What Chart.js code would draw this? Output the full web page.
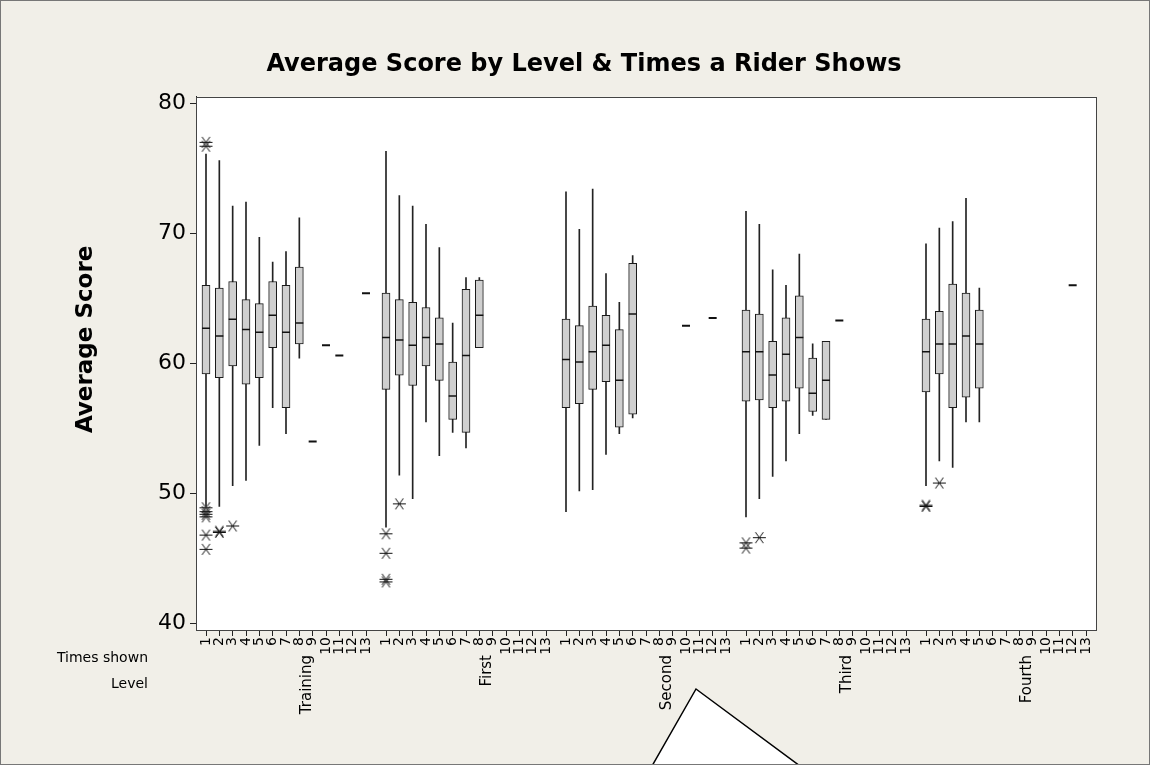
<!DOCTYPE html>
<html>
<head>
<meta charset="utf-8">
<title>Average Score by Level &amp; Times a Rider Shows</title>
<script src="https://cdn.jsdelivr.net/npm/chart.js@4.4.1/dist/chart.umd.min.js"></script>
<style>
  html, body { margin: 0; padding: 0; background: #f1efe8; }
  #wrap { width: 1150px; height: 765px; }
</style>
</head>
<body>
<div id="wrap"><canvas id="scoreChart" width="1150" height="765"></canvas></div>
<script>
const levels = ['Training', 'First', 'Second', 'Third', 'Fourth'];
const timesShown = ['1', '2', '3', '4', '5', '6', '7', '8', '9', '10', '11', '12', '13'];

// box plot stats: one row per level, column = times shown - 1
const whiskerHigh = [
    [76.1, 75.6, 72.1, 72.4, 69.7, 67.8, 68.6, 71.2],
    [76.3, 72.9, 72.1, 70.7, 68.9, 63.1, 66.6, 66.6],
    [73.2, 70.3, 73.4, 66.9, 64.7, 68.3],
    [71.7, 70.7, 67.2, 66.0, 68.4, 61.5, 61.7],
    [69.2, 70.4, 70.9, 72.7, 65.8]
];
const upperQuartile = [
    [66.0, 65.8, 66.3, 64.9, 64.6, 66.3, 66.0, 67.4],
    [65.4, 64.9, 64.7, 64.3, 63.5, 60.1, 65.7, 66.4],
    [63.4, 62.9, 64.4, 63.7, 62.6, 67.7],
    [64.1, 63.8, 61.7, 63.5, 65.2, 60.4, 61.7],
    [63.4, 64.0, 66.1, 65.4, 64.1]
];
const medians = [
    [62.7, 62.1, 63.4, 62.6, 62.4, 63.7, 62.4, 63.1],
    [62.0, 61.8, 61.4, 62.0, 61.5, 57.5, 60.6, 63.7],
    [60.3, 60.1, 60.9, 61.4, 58.7, 63.8],
    [60.9, 60.9, 59.1, 60.7, 62.0, 57.7, 58.7],
    [60.9, 61.5, 61.5, 62.1, 61.5]
];
const lowerQuartile = [
    [59.2, 58.9, 59.8, 58.4, 58.9, 61.2, 56.6, 61.5],
    [58.0, 59.1, 58.3, 59.8, 58.7, 55.7, 54.7, 61.2],
    [56.6, 56.9, 58.0, 58.6, 55.1, 56.1],
    [57.1, 57.2, 56.6, 57.1, 58.1, 56.3, 55.7],
    [57.8, 59.2, 56.6, 57.4, 58.1]
];
const whiskerLow = [
    [49.0, 49.0, 50.6, 51.0, 53.7, 56.6, 54.6, 60.4],
    [47.4, 51.4, 49.6, 55.5, 52.9, 54.7, 53.5, 61.2],
    [48.6, 50.2, 50.3, 53.0, 54.6, 55.8],
    [48.2, 49.6, 51.3, 52.5, 54.6, 56.0, 55.7],
    [50.6, 52.5, 52.0, 55.5, 55.5]
];

// cells with a single score (drawn as a dash)
const singleScores = [
    [null, null, null, null, null, null, null, null, 54.0, 61.4, 60.6, null, 65.4],
    [null, null, null, null, null, null, null, null, null, null, null, null, null],
    [null, null, null, null, null, null, null, null, null, 62.9, null, 63.5, null],
    [null, null, null, null, null, null, null, 63.3, null, null, null, null, null],
    [null, null, null, null, null, null, null, null, null, null, null, 66.0, null]
];

// outliers: [level index, times shown, score]
const outliers = [
    [0, 1, 77.0], [0, 1, 76.7], [0, 1, 48.9], [0, 1, 48.6], [0, 1, 48.4], [0, 1, 48.2],
    [0, 1, 46.8], [0, 1, 45.7], [0, 2, 47.0], [0, 2, 47.1], [0, 3, 47.5],
    [1, 1, 46.9], [1, 1, 45.4], [1, 1, 43.4], [1, 1, 43.2], [1, 2, 49.2],
    [3, 1, 46.2], [3, 1, 45.8], [3, 2, 46.6],
    [4, 1, 49.1], [4, 1, 49.0], [4, 2, 50.8]
];

const groupStep = 13.5;   // 13 slots per level plus a half-slot gap
const xOf = (g, t) => g * groupStep + t;

const boxes = [], whiskers = [], medianPts = [], singlePts = [], tickPositions = [];
levels.forEach((lvl, g) => {
    medians[g].forEach((m, t) => {
        const x = xOf(g, t);
        boxes.push({x: x, y: [lowerQuartile[g][t], upperQuartile[g][t]]});
        whiskers.push({x: x, y: [whiskerLow[g][t], whiskerHigh[g][t]]});
        medianPts.push({x: x, y: m});
    });
    singleScores[g].forEach((v, t) => {
        if (v !== null) singlePts.push({x: xOf(g, t), y: v});
    });
    timesShown.forEach((s, t) => tickPositions.push(xOf(g, t)));
});
const outlierPts = outliers.map(o => ({x: xOf(o[0], o[1] - 1), y: o[2]}));

function makeAsterisk() {
    const c = document.createElement('canvas');
    c.width = 15;
    c.height = 13;
    const g = c.getContext('2d');
    g.strokeStyle = '#111';
    g.lineWidth = 1;
    g.beginPath();
    g.moveTo(1, 6.5); g.lineTo(14, 6.5);
    g.moveTo(3.5, 1); g.lineTo(11.5, 12);
    g.moveTo(11.5, 1); g.lineTo(3.5, 12);
    g.stroke();
    return c;
}

const framePlugin = {
    id: 'frame',
    beforeDraw(chart) {
        const ctx = chart.ctx, a = chart.chartArea;
        ctx.save();
        ctx.fillStyle = '#f1efe8';
        ctx.fillRect(0, 0, chart.width, chart.height);
        ctx.fillStyle = '#ffffff';
        ctx.fillRect(a.left, a.top, a.right - a.left, a.bottom - a.top);
        ctx.restore();
    },
    afterDraw(chart) {
        const ctx = chart.ctx, a = chart.chartArea, xs = chart.scales.x;
        ctx.save();
        ctx.strokeStyle = '#444';
        ctx.lineWidth = 1;
        ctx.strokeRect(Math.round(a.left) + 0.5, Math.round(a.top) + 0.5,
            Math.round(a.right - a.left), Math.round(a.bottom - a.top));

        // y axis title
        ctx.fillStyle = '#000';
        ctx.font = 'bold 23px "DejaVu Sans"';
        ctx.textAlign = 'center';
        ctx.textBaseline = 'middle';
        ctx.translate(86, (a.top + a.bottom) / 2 - 24);
        ctx.rotate(-Math.PI / 2);
        ctx.fillText('Average Score', 0, 0);
        ctx.setTransform(1, 0, 0, 1, 0, 0);

        // row captions
        ctx.font = '14px "DejaVu Sans"';
        ctx.textAlign = 'right';
        ctx.fillText('Times shown', 148, a.bottom + 28);
        ctx.fillText('Level', 148, a.bottom + 54);

        // level names under each group
        ctx.font = '15px "DejaVu Sans"';
        levels.forEach((lvl, g) => {
            ctx.save();
            ctx.translate(xs.getPixelForValue(xOf(g, 7.6)), a.bottom + 25);
            ctx.rotate(-Math.PI / 2);
            ctx.textAlign = 'right';
            ctx.textBaseline = 'middle';
            ctx.fillText(lvl, 0, 0);
            ctx.restore();
        });

        // callout pointer at the bottom edge
        ctx.beginPath();
        ctx.moveTo(652, chart.height + 1);
        ctx.lineTo(696, 689);
        ctx.lineTo(800, chart.height + 1);
        ctx.closePath();
        ctx.fillStyle = '#ffffff';
        ctx.fill();
        ctx.strokeStyle = '#000';
        ctx.lineWidth = 1.5;
        ctx.beginPath();
        ctx.moveTo(652, chart.height + 1);
        ctx.lineTo(696, 689);
        ctx.lineTo(800, chart.height + 1);
        ctx.stroke();

        // outer border
        ctx.strokeStyle = '#777';
        ctx.lineWidth = 1;
        ctx.strokeRect(0.5, 0.5, chart.width - 1, chart.height - 1);
        ctx.restore();
    }
};

Chart.defaults.color = '#000';
Chart.defaults.font.family = '"DejaVu Sans", sans-serif';

const ctx = document.getElementById('scoreChart').getContext('2d');
const scoreChart = new Chart(ctx, {
    type: 'bar',
    data: {
        datasets: [{
            type: 'scatter',
            label: 'Outliers',
            data: outlierPts,
            pointStyle: makeAsterisk(),
            pointRadius: 6,
            order: 1
        }, {
            type: 'scatter',
            label: 'Single score',
            data: singlePts,
            pointStyle: 'line',
            pointRadius: 4,
            borderWidth: 2,
            borderColor: '#111',
            order: 2
        }, {
            type: 'scatter',
            label: 'Median',
            data: medianPts,
            pointStyle: 'line',
            pointRadius: 4,
            borderWidth: 1.5,
            borderColor: '#111',
            order: 3
        }, {
            type: 'bar',
            label: 'Quartiles',
            data: boxes,
            backgroundColor: '#cfcfcf',
            borderColor: '#1a1a1a',
            borderWidth: 1,
            borderSkipped: false,
            barThickness: 8,
            grouped: false,
            order: 4
        }, {
            type: 'bar',
            label: 'Whiskers',
            data: whiskers,
            backgroundColor: '#222',
            borderWidth: 0,
            barThickness: 1,
            grouped: false,
            order: 5
        }]
    },
    options: {
        responsive: false,
        animation: false,
        events: [],
        layout: { padding: { left: 72, right: 54, top: 0, bottom: 0 } },
        plugins: {
            legend: { display: false },
            tooltip: { enabled: false },
            title: {
                display: true,
                text: 'Average Score by Level & Times a Rider Shows',
                color: '#000',
                font: { size: 24, weight: 'bold' },
                padding: { top: 50, bottom: 18 }
            }
        },
        scales: {
            x: {
                type: 'linear',
                min: -0.75,
                max: 66.75,
                offset: false,
                afterBuildTicks: axis => {
                    axis.ticks = tickPositions.map(v => ({ value: v }));
                },
                afterFit: axis => { axis.height = 135; },
                ticks: {
                    autoSkip: false,
                    minRotation: 90,
                    maxRotation: 90,
                    padding: 1,
                    font: { size: 14 },
                    callback: (value, index) => timesShown[index % timesShown.length]
                },
                grid: { drawOnChartArea: false, offset: false, tickLength: 6, color: '#222' },
                border: { color: '#222' }
            },
            y: {
                type: 'linear',
                min: 39.5,
                max: 80.5,
                afterFit: axis => { axis.width = 124; },
                ticks: {
                    stepSize: 10,
                    includeBounds: false,
                    padding: 4,
                    font: { size: 22 }
                },
                grid: { drawOnChartArea: false, tickLength: 6, color: '#222' },
                border: { color: '#222' }
            }
        }
    },
    plugins: [framePlugin]
});
</script>
</body>
</html>
